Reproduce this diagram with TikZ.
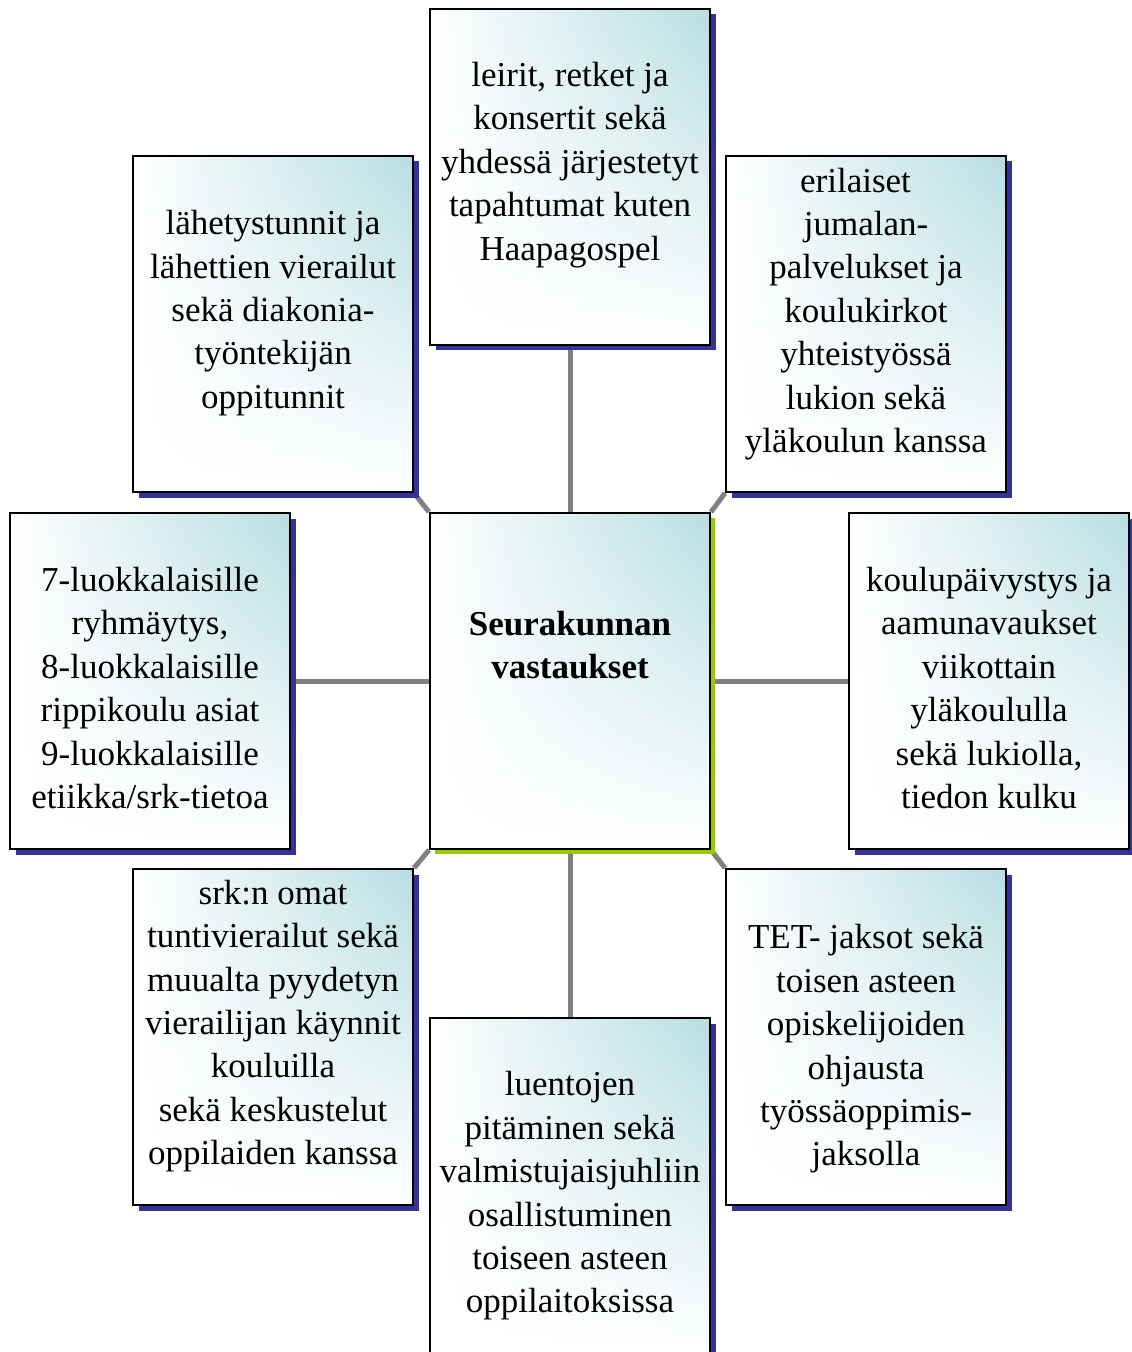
\documentclass[tikz,border=0pt]{standalone}
\usepackage{fontspec}
\setmainfont{Liberation Serif}
\usetikzlibrary{shadows,shadings,backgrounds}
\definecolor{boxteal}{RGB}{183,222,226}
\definecolor{shadowblue}{RGB}{51,51,153}
\definecolor{shadowgreen}{RGB}{153,204,0}
\definecolor{linkgray}{RGB}{128,128,128}
\begin{document}
\begin{tikzpicture}[x=0.5pt,y=-0.5pt]
            \useasboundingbox (0,0) rectangle (1131,1352);
            \tikzset{box/.style={rectangle,draw=black,line width=1pt,minimum width=140pt,minimum height=168pt,inner sep=0pt,
                upper right=boxteal,upper left=white,lower left=white,lower right=white}}
            \tikzset{item box/.style={box,general shadow={fill=shadowblue,shadow xshift=2.75pt,shadow yshift=-2.75pt}}}
            \tikzset{main box/.style={box,general shadow={fill=shadowgreen,shadow xshift=2.5pt,shadow yshift=-2.5pt}}}
            \tikzset{txt/.style={align=center,inner sep=0pt,font=\fontsize{17.5}{21.7}\selectfont}}
            \tikzset{link/.style={draw=linkgray,line width=2.5pt}}
            \node[main box] (0) at (570, 681) {};
            \node[item box] (1) at (570, 177) {};
            \node[item box] (2) at (273, 324) {};
            \node[item box] (3) at (866, 324) {};
            \node[item box] (4) at (150, 681) {};
            \node[item box] (5) at (989, 681) {};
            \node[item box] (6) at (273, 1037) {};
            \node[item box] (7) at (866, 1037) {};
            \node[item box] (8) at (570, 1186) {};

            \node[txt,font=\fontsize{17.5}{21.7}\selectfont\bfseries] (t0) at (570, 645) {Seurakunnan\\vastaukset};
            \node[txt] (t1) at (570, 165) {leirit, retket ja\\konsertit sekä\\yhdessä järjestetyt\\tapahtumat kuten\\Haapagospel};
            \node[txt] (t2) at (273, 313) {lähetystunnit ja\\lähettien vierailut\\sekä diakonia-\\työntekijän\\oppitunnit};
            \node[txt] (t3) at (866, 314) {erilaiset\kern0.6em\\jumalan-\\palvelukset ja\\koulukirkot\\yhteistyössä\\lukion sekä\\yläkoulun kanssa};
            \node[txt] (t4) at (150, 688) {7-luokkalaisille\\ryhmäytys,\\8-luokkalaisille\\rippikoulu asiat\\9-luokkalaisille\\etiikka/srk-tietoa};
            \node[txt] (t5) at (989, 688) {koulupäivystys ja\\aamunavaukset\\viikottain\\yläkoululla\\sekä lukiolla,\\tiedon kulku};
            \node[txt] (t6) at (273, 1026) {srk:n omat\\tuntivierailut sekä\\muualta pyydetyn\\vierailijan käynnit\\kouluilla\\sekä keskustelut\\oppilaiden kanssa};
            \node[txt] (t7) at (866, 1049) {TET- jaksot sekä\\toisen asteen\\opiskelijoiden\\ohjausta\\työssäoppimis-\\jaksolla};
            \node[txt] (t8) at (570, 1196) {luentojen\\pitäminen sekä\\valmistujaisjuhliin\\osallistuminen\\toiseen asteen\\oppilaitoksissa};

            \begin{scope}[on background layer]
                \draw[link] (0.north)--(1.south);
                \draw[link] (0.north west)--(2.south east);
                \draw[link] (0.north east)--(3.south west);
                \draw[link] (0.west)--(4.east);
                \draw[link] (0.east)--(5.west);
                \draw[link] (0.south west)--(6.north east);
                \draw[link] (0.south east)--(7.north west);
                \draw[link] (0.south)--(8.north);
            \end{scope}
        \end{tikzpicture}
\end{document}
